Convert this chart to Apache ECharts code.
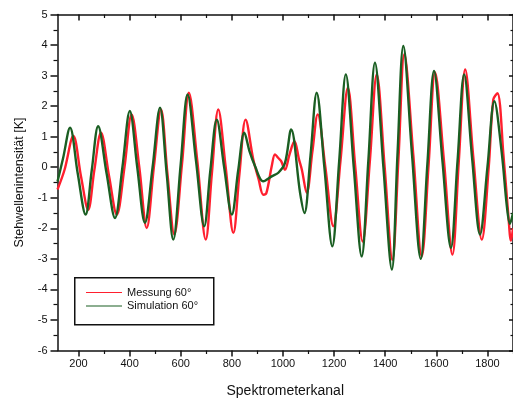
<!DOCTYPE html>
<html>
<head>
<meta charset="utf-8">
<script src="https://cdn.jsdelivr.net/npm/echarts@6/dist/echarts.min.js"></script>
<style>
html,body{margin:0;padding:0;background:#fff;}
#c{width:513px;height:406px;}
</style>
</head>
<body>
<div id="c"></div>
<script>
const seriesNames = ['Messung 60°', 'Simulation 60°'];
const xTickLabels = [200, 400, 600, 800, 1000, 1200, 1400, 1600, 1800];
const xMinorTicks = [300, 500, 700, 900, 1100, 1300, 1500, 1700, 1900];

const messungX = [118,145,180,210,238,262,288,320,350,380,408,438,467,495,523,548,575,605,632,665,698,722,747,776,806,830,854,884,905,923,935,956,969,982,993,1008,1025,1045,1063,1074,1093,1115,1136,1166,1197,1225,1254,1283,1312,1340,1367,1398,1428,1452,1475,1510,1543,1570,1595,1630,1663,1688,1713,1745,1778,1805,1823,1839,1863,1882,1892,1900];
const messungY = [-0.73,-0.1,1.02,-0.3,-1.39,-0.1,1.13,-0.3,-1.55,0.0,1.73,0.0,-1.99,0.0,1.89,-0.2,-2.2,0.1,2.44,0.2,-2.37,-0.2,1.89,0.0,-2.15,-0.2,1.56,0.25,-0.4,-0.9,-0.85,0.03,0.42,0.3,0.2,-0.08,0.4,0.85,0.25,-0.08,-0.84,0.5,1.73,0.0,-1.93,0.2,2.6,0.0,-2.43,0.2,3.04,0.0,-3.03,0.3,3.7,0.4,-2.92,0.1,3.1,0.2,-2.86,0.2,3.2,0.3,-2.37,0.0,2.22,2.42,0.36,-1.6,-2.4,-2.0];

const simulationX = [118,140,167,197,228,252,277,310,343,372,401,430,460,490,519,545,571,600,627,660,692,716,741,770,800,825,849,870,891,923,956,982,1008,1032,1067,1084,1108,1132,1162,1193,1220,1246,1277,1308,1334,1360,1393,1426,1448,1471,1505,1539,1565,1591,1624,1657,1683,1709,1740,1771,1800,1827,1856,1876,1888,1900];
const simulationY = [-0.47,0.3,1.29,-0.2,-1.55,-0.1,1.34,-0.2,-1.66,0.0,1.84,0.0,-1.82,0.0,1.95,-0.2,-2.37,0.1,2.38,0.2,-1.93,-0.1,1.56,0.0,-1.55,-0.1,1.13,0.5,0.03,-0.46,-0.3,-0.18,0.14,1.24,-0.84,-1.5,0.4,2.44,0.0,-2.59,0.2,3.04,0.0,-2.92,0.2,3.42,0.0,-3.35,0.4,3.97,0.4,-3.0,0.1,3.15,0.2,-2.64,0.2,3.04,0.3,-2.2,0.0,2.16,0.47,-1.28,-1.85,-1.5];

const FONT = '"Liberation Sans", Arial, sans-serif';
const chart = echarts.init(document.getElementById('c'), null, {renderer: 'canvas'});

const gridRect = {left: 57.5, right: 0, top: 14.5, bottom: 55.5, containLabel: false};
const axLine = {show: true, onZero: false, lineStyle: {color: '#111', width: 1.5}};
const noLine = {show: false, onZero: false};

chart.setOption({
  backgroundColor: '#ffffff',
  animation: false,
  grid: [Object.assign({}, gridRect), Object.assign({}, gridRect)],
  graphic: [{
    type: 'rect', left: 74, top: 277, z: 100,
    shape: {width: 139, height: 47},
    style: {fill: 'rgba(0,0,0,0)', stroke: '#111', lineWidth: 1.5}
  }],
  legend: {
    left: 74, top: 287, orient: 'vertical',
    padding: [0, 10, 0, 12],
    itemWidth: 36, itemHeight: 12, itemGap: 2.5,
    icon: 'path://M0,5.4 L36,5.4 L36,6.6 L0,6.6 Z',
    textStyle: {fontFamily: FONT, fontSize: 11, color: '#111'},
    data: seriesNames
  },
  xAxis: [
    {gridIndex: 0, type: 'value', position: 'bottom', min: 118, max: 1900,
     name: 'Spektrometerkanal', nameLocation: 'middle', nameGap: 34,
     nameTextStyle: {fontFamily: FONT, fontSize: 14, color: '#111'},
     axisLine: axLine, splitLine: {show: false},
     axisTick: {show: true, customValues: xTickLabels, length: 6, lineStyle: {color: '#111', width: 1.5}},
     axisLabel: {customValues: xTickLabels, margin: 8, fontFamily: FONT, fontSize: 11, color: '#111',
                 formatter: v => String(v)}},
    {gridIndex: 0, type: 'value', position: 'top', min: 118, max: 1900,
     axisLine: axLine, splitLine: {show: false},
     axisTick: {show: true, inside: true, customValues: xTickLabels, length: 6, lineStyle: {color: '#111', width: 1.5}},
     axisLabel: {show: false}},
    {gridIndex: 1, type: 'value', position: 'bottom', min: 118, max: 1900,
     axisLine: noLine, splitLine: {show: false},
     axisTick: {show: true, customValues: xMinorTicks, length: 3.5, lineStyle: {color: '#111', width: 1.2}},
     axisLabel: {show: false}},
    {gridIndex: 1, type: 'value', position: 'top', min: 118, max: 1900,
     axisLine: noLine, splitLine: {show: false},
     axisTick: {show: true, inside: true, customValues: xMinorTicks, length: 3.5, lineStyle: {color: '#111', width: 1.2}},
     axisLabel: {show: false}}
  ],
  yAxis: [
    {gridIndex: 0, type: 'value', position: 'left', min: -6, max: 5, interval: 1,
     name: 'Stehwellenintensität [K]', nameLocation: 'middle', nameGap: 31, nameRotate: 90,
     nameTextStyle: {fontFamily: FONT, fontSize: 12.5, color: '#111'},
     axisLine: axLine, splitLine: {show: false},
     axisTick: {show: true, length: 7, lineStyle: {color: '#111', width: 1.5}},
     minorTick: {show: true, splitNumber: 2, length: 4, lineStyle: {color: '#111', width: 1.2}},
     axisLabel: {margin: 10, fontFamily: FONT, fontSize: 11, color: '#111'}},
    {gridIndex: 0, type: 'value', position: 'right', min: -6, max: 5, interval: 1,
     axisLine: axLine, splitLine: {show: false},
     axisTick: {show: true, inside: true, length: 4, lineStyle: {color: '#111', width: 1.5}},
     minorTick: {show: true, splitNumber: 2, length: 2.5, lineStyle: {color: '#111', width: 1.2}},
     axisLabel: {show: false}},
    {gridIndex: 1, type: 'value', min: -6, max: 5, show: false, axisLine: noLine},
    {gridIndex: 1, type: 'value', min: -6, max: 5, show: false, position: 'right', axisLine: noLine}
  ],
  series: [
    {name: seriesNames[0], type: 'line', xAxisIndex: 0, yAxisIndex: 0,
     data: messungX.map((x, i) => [x, messungY[i]]),
     symbol: 'none', smooth: 0.35, clip: true,
     lineStyle: {color: '#ff1f2e', width: 2.4}, itemStyle: {color: '#ff1f2e'}},
    {name: seriesNames[1], type: 'line', xAxisIndex: 0, yAxisIndex: 0,
     data: simulationX.map((x, i) => [x, simulationY[i]]),
     symbol: 'none', smooth: 0.35, clip: true,
     lineStyle: {color: '#1a5e22', width: 2.4}, itemStyle: {color: '#1a5e22'}}
  ]
});
</script>
</body>
</html>
